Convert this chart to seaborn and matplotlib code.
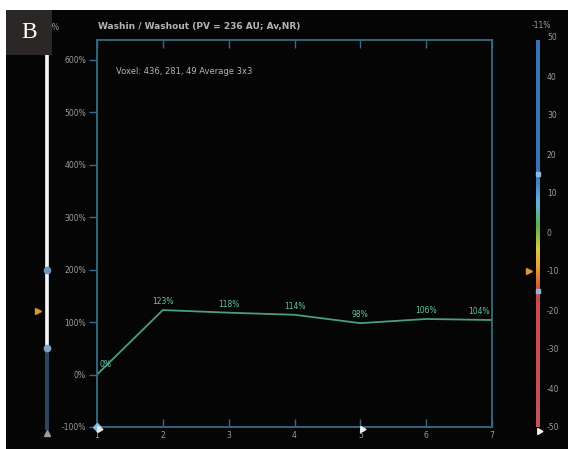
import numpy as np
import pandas as pd
import seaborn as sns
import matplotlib
matplotlib.use("Agg")
import matplotlib.pyplot as plt
from matplotlib.patches import Rectangle
from matplotlib.colors import LinearSegmentedColormap

# ---- curve data ----
time_points = [1, 2, 3, 4, 5, 6, 7]
washin_pct = [0, 123, 118, 114, 98, 106, 104]
value_labels = ["0%", "123%", "118%", "114%", "98%", "106%", "104%"]

y_ticks = [-100, 0, 100, 200, 300, 400, 500, 600]
y_tick_labels = ["-100%", "0%", "100%", "200%", "300%", "400%", "500%", "600%"]
x_ticks = [1, 2, 3, 4, 5, 6, 7]
x_tick_labels = ["1", "2", "3", "4", "5", "6", "7"]

title_text = "Washin / Washout (PV = 236 AU; Av,NR)"
voxel_text = "Voxel: 436, 281, 49 Average 3x3"

# ---- left window bar (percent scale) ----
window_low = 50
window_high = 200
window_pointer = 122

# ---- right colour scale ----
scale_ticks = [50, 40, 30, 20, 10, 0, -10, -20, -30, -40, -50]
scale_tick_labels = ["50", "40", "30", "20", "10", "0", "-10", "-20", "-30", "-40", "-50"]
scale_low = -15
scale_high = 15
scale_pointer = -10
scale_title = "-11%"
scale_stop_values = [-50, -15, -12, -8, -4, 2, 8, 12, 15, 50]
scale_stop_colors = ["#c0545c", "#cc4a48", "#e07034", "#e8a83a", "#d6c842",
                     "#5eae4e", "#62b6d6", "#4a8ed0", "#3b72b8", "#3a70b6"]

W, H = 573, 449
BG = "#050505"
SPINE = "#366c82"
LINE = "#4a9c88"
LABEL_GREEN = "#62c6a6"
GREY = "#9c9c9c"

sns.set_theme(style="dark", rc={
    "axes.facecolor": BG,
    "figure.facecolor": "white",
    "axes.edgecolor": SPINE,
    "xtick.color": SPINE,
    "ytick.color": SPINE,
    "axes.grid": False,
})
plt.rcParams["font.family"] = ["DejaVu Sans"]


def px(x0, y0, x1, y1):
    return [x0 / W, 1 - y1 / H, (x1 - x0) / W, (y1 - y0) / H]


fig = plt.figure(figsize=(W / 100, H / 100), dpi=100)

# dark screen area
fig.patches.append(Rectangle((6 / W, 0), (568 - 6) / W, 1 - 10 / H,
                             transform=fig.transFigure, facecolor=BG,
                             edgecolor="none", zorder=-5))

# ---- main curve ----
ax = fig.add_axes(px(97, 40, 492, 427))
df = pd.DataFrame({"time": time_points, "washin": washin_pct})
sns.lineplot(data=df, x="time", y="washin", ax=ax, color=LINE, linewidth=1.3)
ax.set_xlim(1, 7)
ax.set_ylim(-100, 638)
ax.set_xlabel("")
ax.set_ylabel("")
for s in ax.spines.values():
    s.set_color(SPINE)
    s.set_linewidth(1.3)
    s.set_visible(True)
ax.set_yticks(y_ticks)
ax.set_yticklabels(y_tick_labels, fontsize=5.5, color=GREY)
ax.tick_params(axis="y", direction="out", length=6, width=1, pad=2, left=True)
ax.set_xticks(x_ticks)
ax.set_xticklabels(x_tick_labels, fontsize=5.5, color=GREY)
ax.tick_params(axis="x", direction="in", length=6, width=1, pad=3,
               top=True, bottom=True)

for i, (t, v, lab) in enumerate(zip(time_points, washin_pct, value_labels)):
    if i == 0:
        ax.annotate(lab, (t, v), xytext=(2, 4), textcoords="offset points",
                    ha="left", va="bottom", fontsize=5.5, color=LABEL_GREEN)
    elif i == len(time_points) - 1:
        ax.annotate(lab, (t, v), xytext=(-1.5, 3), textcoords="offset points",
                    ha="right", va="bottom", fontsize=5.5, color=LABEL_GREEN)
    else:
        ax.annotate(lab, (t, v), xytext=(0, 3), textcoords="offset points",
                    ha="center", va="bottom", fontsize=5.5, color=LABEL_GREEN)

# cursor markers on the time axis
ax.plot([1], [-100], marker="D", markersize=4, color="#8fb8e0",
        clip_on=False, zorder=5)
ax.plot([1.03], [-104], marker=(3, 0, 30), markersize=5, color="#e8e8e8",
        clip_on=False, zorder=6)
ax.plot([5.02], [-104], marker=(3, 0, 30), markersize=5, color="#f0f0f0",
        clip_on=False, zorder=6)

fig.text(98 / W, 1 - 27 / H, title_text, fontsize=6.5, color="#b4b4b4",
         fontweight="bold", ha="left", va="center")
fig.text(116 / W, 1 - 71 / H, voxel_text, fontsize=6, color="#b4b4b4",
         ha="left", va="center")

# ---- left window bar ----
axl = fig.add_axes(px(45, 40, 49, 427))
axl.set_xlim(0, 1)
axl.set_ylim(-100, 638)
axl.axis("off")
axl.add_patch(Rectangle((0, window_low), 1, 660 - window_low,
                        facecolor="#c9cdd4", edgecolor="none", clip_on=False))
axl.add_patch(Rectangle((0.35, window_low), 0.3, 660 - window_low,
                        facecolor="#f2f4f6", edgecolor="none", clip_on=False))
axl.add_patch(Rectangle((0, -106), 1, window_low + 106,
                        facecolor="#2a4660", edgecolor="none", clip_on=False))
axl.plot([0.5], [window_high], marker="o", markersize=4.5, color="#6f94bc",
         clip_on=False)
axl.plot([0.5], [window_low], marker="o", markersize=4.5, color="#7fa2c8",
         clip_on=False)
axl.plot([0.5], [-112], marker="^", markersize=5, color="#9a9ea4",
         clip_on=False)
axl.plot([-1.8], [window_pointer], marker=">", markersize=5, color="#d8962e",
         clip_on=False)

# ---- right colour scale ----
pos = [(v - scale_stop_values[0]) / (scale_stop_values[-1] - scale_stop_values[0])
       for v in scale_stop_values]
cmap = LinearSegmentedColormap.from_list("scale", list(zip(pos, scale_stop_colors)))
axr = fig.add_axes(px(536, 37, 540, 427))
grad = np.linspace(-50, 50, 400).reshape(-1, 1)
axr.imshow(grad, extent=[0, 1, -50, 49], origin="lower", aspect="auto",
           cmap=cmap, vmin=-50, vmax=50)
axr.set_xlim(0, 1)
axr.set_ylim(-50, 50)
for s in axr.spines.values():
    s.set_visible(False)
axr.set_xticks([])
axr.yaxis.tick_right()
axr.set_yticks(scale_ticks)
axr.set_yticklabels(scale_tick_labels, fontsize=5.5, color=GREY)
axr.tick_params(axis="y", length=0, pad=5)
axr.plot([0.5], [scale_high], marker="s", markersize=3.5, color="#8fb6e0",
         clip_on=False)
axr.plot([0.5], [scale_low], marker="s", markersize=3.5, color="#8fb6e0",
         clip_on=False)
axr.plot([-1.8], [scale_pointer], marker=">", markersize=5, color="#d8962e",
         clip_on=False)
axr.plot([0.7], [-51], marker=(3, 0, 30), markersize=5, color="#f0f0f0",
         clip_on=False)
fig.text(532 / W, 1 - 25 / H, scale_title, fontsize=5.5, color=GREY,
         ha="left", va="center")

# top-left range readout, partly behind the panel tag
fig.text(48 / W, 1 - 27 / H, "0%", fontsize=5.5, color=GREY,
         ha="left", va="center", zorder=1)

# panel tag
fig.patches.append(Rectangle((6 / W, 1 - 55 / H), 46 / W, 45 / H,
                             transform=fig.transFigure, facecolor="#2b2727",
                             edgecolor="none", zorder=10))
fig.text(29 / W, 1 - 33 / H, "B", fontsize=17, color="white",
         family=["Liberation Serif", "DejaVu Serif"],
         ha="center", va="center", zorder=11)

fig.savefig("out.png", dpi=100, facecolor="white")
